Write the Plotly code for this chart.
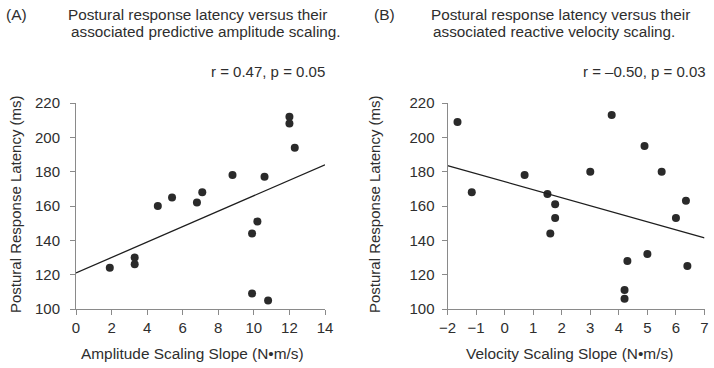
import plotly.graph_objects as go

# ---- Data: panel A (predictive amplitude scaling) ----
amp_slope = [1.9, 3.3, 3.3, 4.6, 5.4, 6.8, 7.1, 8.8, 10.6, 9.9, 10.2, 9.9, 10.8, 12.0, 12.0, 12.3]
amp_latency = [124, 130, 126, 160, 165, 162, 168, 178, 177, 144, 151, 109, 105, 212, 208, 194]
amp_fit_x = [0, 14]
amp_fit_y = [121, 184]

# ---- Data: panel B (reactive velocity scaling) ----
vel_slope = [-1.65, -1.15, 0.7, 1.5, 1.77, 1.77, 1.6, 3.0, 3.75, 4.3, 4.2, 4.2, 4.9, 5.0, 5.5, 6.0, 6.35, 6.4]
vel_latency = [209, 168, 178, 167, 161, 153, 144, 180, 213, 128, 111, 106, 195, 132, 180, 153, 163, 125]
vel_fit_x = [-2, 7]
vel_fit_y = [183.5, 141.5]

W, H = 714, 368
FONT = "Liberation Sans, Arial, Helvetica, sans-serif"
TXT = "#2e2e2e"
AX = "#8a8a8a"
DOT = "#2a2a2a"

def px(x):
    return x / W

def py(y):
    return 1 - y / H

fig = go.Figure()

fig.add_trace(go.Scatter(x=amp_slope, y=amp_latency, mode="markers",
                         marker=dict(size=8, color=DOT), xaxis="x", yaxis="y", showlegend=False))
fig.add_trace(go.Scatter(x=amp_fit_x, y=amp_fit_y, mode="lines",
                         line=dict(color="#1e1e1e", width=1.3), xaxis="x", yaxis="y", showlegend=False))
fig.add_trace(go.Scatter(x=vel_slope, y=vel_latency, mode="markers",
                         marker=dict(size=8, color=DOT), xaxis="x2", yaxis="y2", showlegend=False))
fig.add_trace(go.Scatter(x=vel_fit_x, y=vel_fit_y, mode="lines",
                         line=dict(color="#1e1e1e", width=1.3), xaxis="x2", yaxis="y2", showlegend=False))

axis_common = dict(showline=True, linecolor=AX, linewidth=1, ticks="outside", ticklen=5,
                   tickcolor=AX, tickwidth=1, showgrid=False, zeroline=False, automargin=False,
                   tickfont=dict(family=FONT, size=15, color=TXT))

y_dom = [py(309), py(103)]
fig.update_layout(
    width=W, height=H, autosize=False,
    margin=dict(l=0, r=0, t=0, b=0, pad=0, autoexpand=False),
    paper_bgcolor="white", plot_bgcolor="white",
    xaxis=dict(domain=[px(76), px(325)], range=[0, 14], tickvals=[0, 2, 4, 6, 8, 10, 12, 14],
               anchor="y", **axis_common),
    yaxis=dict(domain=y_dom, range=[100, 220], tickvals=[100, 120, 140, 160, 180, 200, 220],
               anchor="x", ticklabelstandoff=7, **axis_common),
    xaxis2=dict(domain=[px(447.5), px(704.5)], range=[-2, 7], tickvals=list(range(-2, 8)),
                ticktext=["\u22122", "\u22121", "0", "1", "2", "3", "4", "5", "6", "7"],
                anchor="y2", **axis_common),
    yaxis2=dict(domain=y_dom, range=[100, 220], tickvals=[100, 120, 140, 160, 180, 200, 220],
                anchor="x2", ticklabelstandoff=4, **axis_common),
)

def note(text, x, y, xanchor="left", size=15, angle=0):
    fig.add_annotation(text=text, x=px(x), y=py(y), xref="paper", yref="paper",
                       xanchor=xanchor, yanchor="middle", showarrow=False, textangle=angle,
                       borderpad=0, font=dict(family=FONT, size=size, color=TXT))

# Panel A texts
note("(A)", 5, 14, size=15.5)
note("Postural response latency versus their", 67, 14, size=15.3)
note("associated predictive amplitude scaling.", 70, 32, size=15.3)
note("r = 0.47, p = 0.05", 326, 71, xanchor="right")
note("Postural Response Latency (ms)", 15, 204, xanchor="center", size=15, angle=-90)
note("Amplitude Scaling Slope (N\u2022m/s)", 192, 353, xanchor="center", size=15.4)

# Panel B texts
note("(B)", 373, 14, size=15.5)
note("Postural response latency versus their", 430, 14, size=15.3)
note("associated reactive velocity scaling.", 432, 32, size=15.3)
note("r = \u20130.50, p = 0.03", 707, 71, xanchor="right")
note("Postural Response Latency (ms)", 374, 204, xanchor="center", size=15, angle=-90)
note("Velocity Scaling Slope (N\u2022m/s)", 569, 353, xanchor="center", size=15.4)

fig.write_html("out.html", config={"responsive": False, "displayModeBar": False},
               post_script="document.body.style.margin='0';document.body.style.padding='0';")
